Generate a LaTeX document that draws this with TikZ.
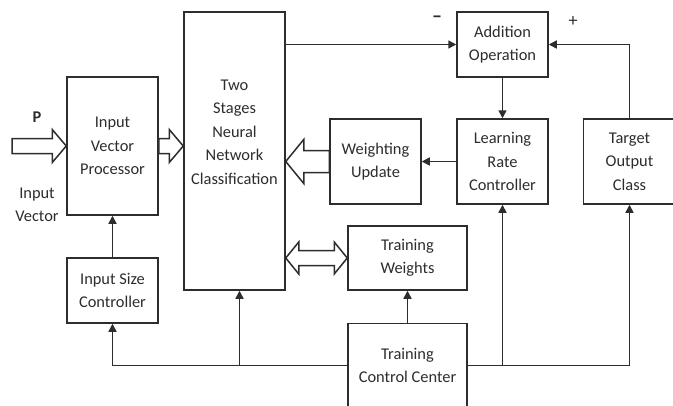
\documentclass[tikz,border=0pt]{standalone}
\usepackage{fontspec}
\setmainfont{Carlito}
\usetikzlibrary{arrows.meta,calc}
\definecolor{ink}{RGB}{45,45,45}
\newcommand{\blockarr}[5]{%
 \draw[hollow] ($(#1)+(0,#3)$) -- ($(#2)+({-(#5)},#3)$) -- ($(#2)+({-(#5)},#4)$) -- (#2)
   -- ($(#2)+({-(#5)},{-(#4)})$) -- ($(#2)+({-(#5)},{-(#3)})$) -- ($(#1)+(0,{-(#3)})$) -- cycle;}
\newcommand{\dblarr}[5]{%
 \draw[hollow] (#1) -- ($(#1)+(#5,#4)$) -- ($(#1)+(#5,#3)$) -- ($(#2)+({-(#5)},#3)$) -- ($(#2)+({-(#5)},#4)$) -- (#2)
   -- ($(#2)+({-(#5)},{-(#4)})$) -- ($(#2)+({-(#5)},{-(#3)})$) -- ($(#1)+(#5,{-(#3)})$) -- ($(#1)+(#5,{-(#4)})$) -- cycle;}
\tikzset{
  txt/.style={text=ink, font=\fontsize{16.4}{23.5}\selectfont, align=center, inner sep=0pt},
  blk/.style={draw=ink, line width=1.5pt, rectangle, inner sep=0pt, txt},
  arr/.style={draw=ink, line width=1.5pt, -{Triangle[length=8pt,width=8pt]}},
  hollow/.style={draw=ink, line width=1.5pt, fill=white, line join=miter}
}
\begin{document}
\begin{tikzpicture}[x=1pt,y=-1pt]
\path[use as bounding box, clip] (0,0) rectangle (673,405);
\fill[white] (0,0) rectangle (673,405);
% boxes
\node[blk, minimum width=91pt, minimum height=138pt] (ivp) at (112.5,146) {Input\\Vector\\Processor};
\node[blk, minimum width=101pt, minimum height=278pt] (ts) at (234.5,151) {};
\node[txt] (tstext) at (234.5,132) {Two\\Stages\\Neural\\Network\\Classification};
\node[blk, minimum width=91pt, minimum height=85pt] (wu) at (375.5,161.5) {Weighting\\Update};
\node[blk, minimum width=91pt, minimum height=65pt] (ao) at (502.5,44.5) {Addition\\Operation};
\node[blk, minimum width=91pt, minimum height=85pt] (lr) at (502.5,161.5) {Learning\\Rate\\Controller};
\node[blk, minimum width=92pt, minimum height=85pt] (toc) at (629.5,161.5) {Target\\Output\\Class};
\node[blk, minimum width=91pt, minimum height=65pt] (isc) at (112.5,290.5) {Input Size\\Controller};
\node[blk, minimum width=119pt, minimum height=64pt] (tw) at (407.5,258) {Training\\Weights};
\node[blk, minimum width=119pt, minimum height=84pt] (tcc) at (407.5,365.5) {Training\\Control Center};
% labels
\node[txt, font=\fontsize{16.4}{23.5}\selectfont\bfseries] (p) at (37,117) {P};
\node[txt] (iv) at (37,205) {Input\\Vector};
\node[txt, font=\fontsize{20}{24}\selectfont\bfseries] (minus) at (437,19) {–};
\node[txt, font=\fontsize{18}{24}\selectfont] (plus) at (573,22) {+};
% thin connectors
\coordinate (tsin) at ($(ts.south)+(5,0)$);
\coordinate (busts) at (tsin |- tcc.west);
\coordinate (buslr) at (lr.south |- tcc.east);
\draw[arr] (ts.east |- ao.west) -- (ao.west);
\draw[arr] (toc.north) |- (ao.east);
\draw[arr] (ao.south) -- (lr.north);
\draw[arr] (lr.west) -- (wu.east);
\draw[arr] (isc.north) -- (ivp.south);
\draw[arr] (tcc.west) -| (isc.south);
\draw[arr] (busts) -- (tsin);
\draw[arr] (tcc.east) -| (toc.south);
\draw[arr] (buslr) -- (lr.south);
\draw[arr] (tcc.north) -- (tw.south);
% hollow arrows
\coordinate (pin) at (12,146);
\coordinate (ivpts) at (ts.west |- ivp.east);
\coordinate (wuts) at (ts.east |- wu.west);
\coordinate (twts) at (ts.east |- tw.west);
\blockarr{pin}{ivp.west}{7.5}{16.5}{14}
\blockarr{ivp.east}{ivpts}{7.5}{16.5}{14}
\blockarr{wu.west}{wuts}{11}{22}{-18}
\dblarr{twts}{tw.west}{7.5}{16}{13}
\end{tikzpicture}
\end{document}
